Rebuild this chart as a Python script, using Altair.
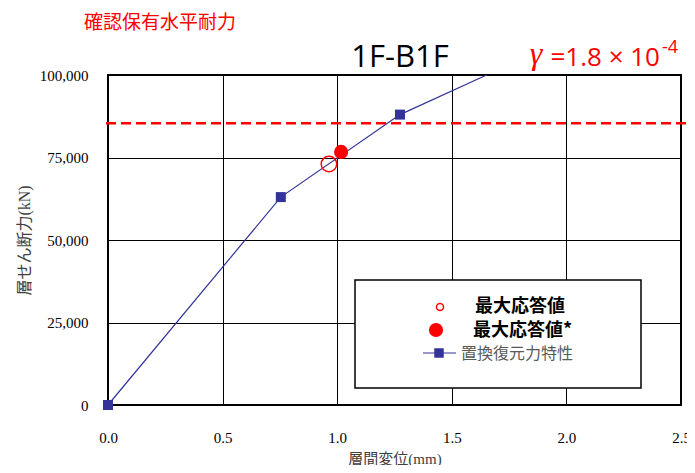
import altair as alt
import pandas as pd

# ---- data ----
disp_mm = [0.0, 0.754, 1.274, 1.652]
shear_kN = [0, 63000, 88000, 100000]
has_marker = [True, True, True, False]

max_resp_disp = [0.964]
max_resp_shear = [73000]
max_resp_star_disp = [1.017]
max_resp_star_shear = [76700]

capacity_shear = [85400]

x_ticks = [0.0, 0.5, 1.0, 1.5, 2.0, 2.5]
y_ticks = [0, 25000, 50000, 75000, 100000]

title_text = "1F-B1F"
top_left_text = "確認保有水平耐力"
gamma_sym = "γ"
gamma_text = "=1.8 × 10"
gamma_exp = "-4"
legend_labels = ["最大応答値", "最大応答値*", "置換復元力特性"]

# ---- fonts / colours ----
SERIF = "Liberation Serif, 'Noto Sans CJK JP'"
JP = "'Noto Sans CJK JP'"
SANS = "'Open Sans'"
NAVY = "#333399"
RED = "#FF0000"

curve = pd.DataFrame({"disp": disp_mm, "shear": shear_kN, "marker": has_marker})
markers = curve[curve["marker"]]
open_pt = pd.DataFrame({"disp": max_resp_disp, "shear": max_resp_shear})
fill_pt = pd.DataFrame({"disp": max_resp_star_disp, "shear": max_resp_star_shear})
cap = pd.DataFrame({"shear": capacity_shear})
one = pd.DataFrame({"k": [0]})

x_enc = alt.X(
    "disp:Q",
    scale=alt.Scale(domain=[0, 2.5], nice=False, zero=False),
    axis=alt.Axis(
        values=x_ticks, format=".1f", grid=True, gridColor="#000", gridWidth=1,
        ticks=False, domain=False, labelFlush=False, labelFont=SERIF,
        labelFontSize=15, labelColor="#000", labelPadding=25,
        title="層間変位(mm)", titleFont=SERIF, titleFontSize=15,
        titleFontWeight="normal", titleColor="#404040", titlePadding=6,
    ),
)
y_enc = alt.Y(
    "shear:Q",
    scale=alt.Scale(domain=[0, 100000], nice=False),
    axis=alt.Axis(
        values=y_ticks, format=",d", grid=True, gridColor="#000", gridWidth=1,
        ticks=False, domain=False, labelFlush=False, labelFont=SERIF,
        labelFontSize=15, labelColor="#000", labelPadding=20,
        title="層せん断力(kN)", titleFont=SERIF, titleFontSize=16,
        titleFontWeight="normal", titleColor="#404040", titlePadding=7,
    ),
)

line = alt.Chart(curve).mark_line(color=NAVY, strokeWidth=1.2).encode(x=x_enc, y=y_enc)
squares = alt.Chart(markers).mark_point(
    shape="square", filled=True, color=NAVY, size=100, opacity=1
).encode(x=x_enc, y=y_enc)
open_c = alt.Chart(open_pt).mark_point(
    shape="circle", filled=False, color=RED, size=240, strokeWidth=1.5, opacity=1
).encode(x=x_enc, y=y_enc)
fill_c = alt.Chart(fill_pt).mark_point(
    shape="circle", filled=True, color=RED, size=200, opacity=1
).encode(x=x_enc, y=y_enc)
dashed = alt.Chart(cap).mark_rule(
    color=RED, strokeWidth=2.5, strokeDash=[10, 5]
).encode(y=y_enc, x=alt.value(-2), x2=alt.value(590))

# ---- texts outside plot ----
t_top = alt.Chart(one).mark_text(
    text=top_left_text, font=JP, fontSize=19, color=RED, align="left", baseline="middle"
).encode(x=alt.value(-24), y=alt.value(-52))
t_title = alt.Chart(one).mark_text(
    text=title_text, font=SANS, fontSize=31, color="#000", align="center", baseline="alphabetic"
).encode(x=alt.value(292), y=alt.value(-8))
t_gsym = alt.Chart(one).mark_text(
    text=gamma_sym, font="Liberation Serif", fontSize=32, fontStyle="italic", color=RED,
    align="center", baseline="alphabetic"
).encode(x=alt.value(428), y=alt.value(-11))
t_gamma = alt.Chart(one).mark_text(
    text=gamma_text, font=SANS, fontSize=26, color=RED, align="right", baseline="alphabetic"
).encode(x=alt.value(552), y=alt.value(-9))
t_exp = alt.Chart(one).mark_text(
    text=gamma_exp, font=SANS, fontSize=18, color=RED, align="left", baseline="alphabetic"
).encode(x=alt.value(554), y=alt.value(-22))

# ---- legend ----
lg_box = alt.Chart(one).mark_rect(
    fill="white", stroke="#000", strokeWidth=1.5
).encode(x=alt.value(247), x2=alt.value(533), y=alt.value(205), y2=alt.value(313))
lg_open = alt.Chart(one).mark_point(
    shape="circle", filled=False, color=RED, size=50, strokeWidth=1.5, opacity=1
).encode(x=alt.value(332), y=alt.value(232))
lg_fill = alt.Chart(one).mark_point(
    shape="circle", filled=True, color=RED, size=200, opacity=1
).encode(x=alt.value(328), y=alt.value(255))
lg_rule = alt.Chart(one).mark_rule(color=NAVY, strokeWidth=1.2).encode(
    x=alt.value(315), x2=alt.value(348), y=alt.value(278)
)
lg_sq = alt.Chart(one).mark_point(
    shape="square", filled=True, color=NAVY, size=90, opacity=1
).encode(x=alt.value(331), y=alt.value(278))
lg_t1 = alt.Chart(one).mark_text(
    text=legend_labels[0], font=JP, fontSize=18, fontWeight="bold", color="#000",
    align="left", baseline="middle"
).encode(x=alt.value(367), y=alt.value(232))
lg_t2 = alt.Chart(one).mark_text(
    text=legend_labels[1], font=JP, fontSize=18, fontWeight="bold", color="#000",
    align="left", baseline="middle"
).encode(x=alt.value(365), y=alt.value(256))
lg_t3 = alt.Chart(one).mark_text(
    text=legend_labels[2], font=JP, fontSize=16, color="#595959",
    align="left", baseline="middle"
).encode(x=alt.value(353), y=alt.value(279))

chart = alt.layer(
    line, squares, dashed, open_c, fill_c,
    t_top, t_title, t_gsym, t_gamma, t_exp,
    lg_box, lg_open, lg_fill, lg_rule, lg_sq, lg_t1, lg_t2, lg_t3,
).properties(
    width=573, height=330,
    autosize=alt.AutoSizeParams(type="none"),
    padding={"left": 100, "top": 67, "right": 6, "bottom": 60},
).configure_view(stroke="#000", strokeWidth=2)

chart.save("out.html", embed_options={"renderer": "svg", "actions": False})
